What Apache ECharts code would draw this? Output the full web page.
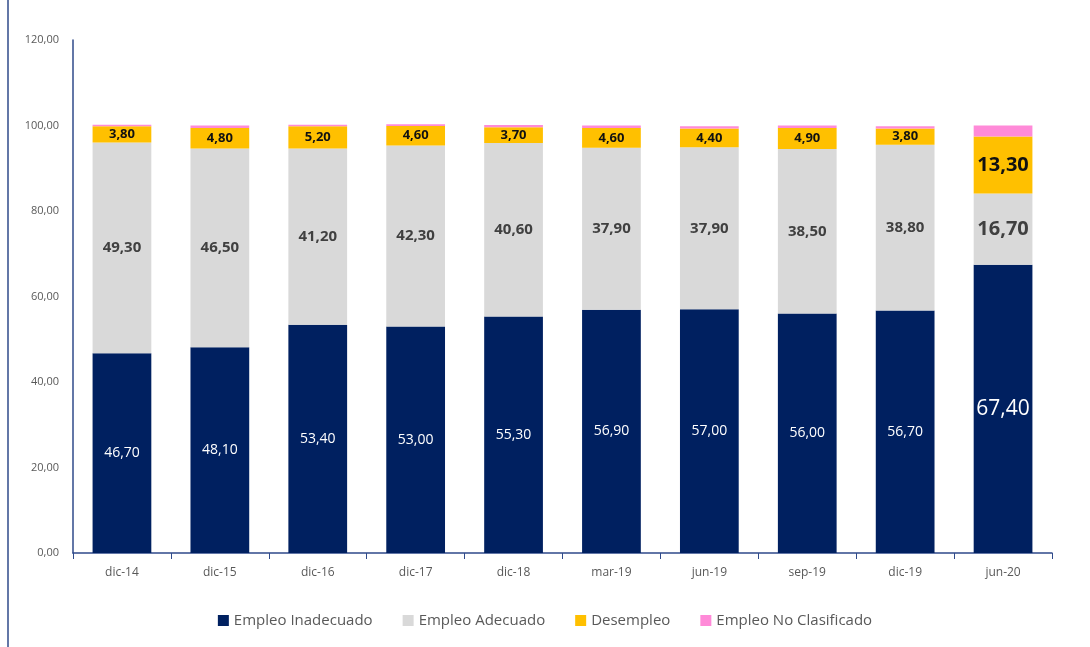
<!DOCTYPE html>
<html><head><meta charset="utf-8">
<script src="https://cdn.jsdelivr.net/npm/echarts@6/dist/echarts.min.js"></script>
<style>html,body{margin:0;padding:0;background:#fff}#c{width:1090px;height:647px}</style>
</head><body><div id="c"></div>
<script>
var categories = ['dic-14','dic-15','dic-16','dic-17','dic-18','mar-19','jun-19','sep-19','dic-19','jun-20'];
var inadecuado = [46.7,48.1,53.4,53.0,55.3,56.9,57.0,56.0,56.7,67.4];
var adecuado   = [49.3,46.5,41.2,42.3,40.6,37.9,37.9,38.5,38.8,16.7];
var desempleo  = [3.8,4.8,5.2,4.6,3.7,4.6,4.4,4.9,3.8,13.3];
var noClasif   = [0.4,0.6,0.4,0.4,0.5,0.6,0.5,0.6,0.5,2.6];
var yTicks = [0,20,40,60,80,100,120];

var FONT = '"Open Sans", "Noto Sans", sans-serif';
function fmt(v){ return v.toFixed(2).replace('.', ','); }
function build(arr, big){
  return arr.map(function(v,i){
    var o = {value:v};
    if (i === arr.length-1 && big) o.label = {fontSize: big};
    return o;
  });
}
var chart = echarts.init(document.getElementById('c'));
chart.setOption({
  animation:false,
  grid:{left:73,right:38,top:40,bottom:94},
  legend:{
    bottom:14, left:'center', itemWidth:11, itemHeight:11, itemGap:30, icon:'rect',
    textStyle:{color:'#595959', fontSize:15, fontFamily:FONT},
    data:['Empleo Inadecuado','Empleo Adecuado','Desempleo','Empleo No Clasificado']
  },
  graphic:[{type:'line', shape:{x1:8,y1:0,x2:8,y2:647}, style:{stroke:'#2f4a8a', lineWidth:1.5}}],
  xAxis:{
    type:'category', data:categories,
    axisLine:{lineStyle:{color:'#2f4a8a', width:1.5}},
    axisTick:{show:true, length:6, lineStyle:{color:'#2f4a8a'}},
    axisLabel:{color:'#595959', fontSize:12, fontFamily:FONT, margin:14}
  },
  yAxis:{
    type:'value', min:0, max:120, interval:20,
    axisLine:{show:true, lineStyle:{color:'#2f4a8a', width:1.5}},
    axisTick:{show:false},
    splitLine:{show:false},
    axisLabel:{color:'#595959', fontSize:11, fontFamily:FONT, margin:14,
      formatter:function(v){ return yTicks.indexOf(v)>=0 ? fmt(v) : ''; }}
  },
  series:[
    {name:'Empleo Inadecuado', type:'bar', stack:'t', barWidth:'60%', data:build(inadecuado,21),
     itemStyle:{color:'#002060'},
     label:{show:true, position:'inside', color:'#ffffff', fontSize:14, fontFamily:FONT, formatter:function(p){return fmt(p.value);}}},
    {name:'Empleo Adecuado', type:'bar', stack:'t', data:build(adecuado,20),
     itemStyle:{color:'#d9d9d9'},
     label:{show:true, position:'inside', color:'#404040', fontWeight:'bold', fontSize:15, fontFamily:FONT, formatter:function(p){return fmt(p.value);}}},
    {name:'Desempleo', type:'bar', stack:'t', data:build(desempleo,20),
     itemStyle:{color:'#ffc000'},
     label:{show:true, position:'inside', color:'#111111', fontWeight:'bold', fontSize:13, fontFamily:FONT, formatter:function(p){return fmt(p.value);}}},
    {name:'Empleo No Clasificado', type:'bar', stack:'t', data:noClasif,
     itemStyle:{color:'#ff8ad8'}}
  ]
});
</script></body></html>
